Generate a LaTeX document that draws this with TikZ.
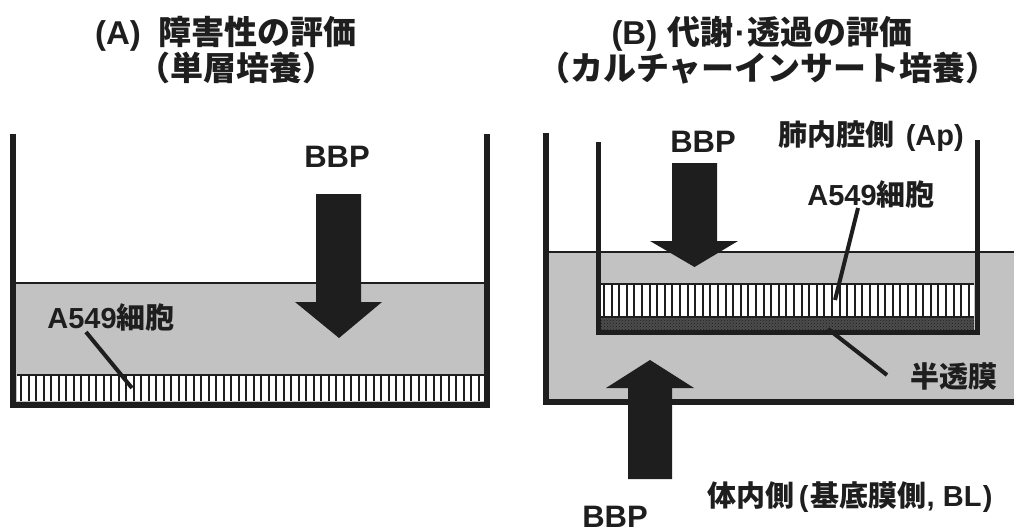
\documentclass[tikz,border=0pt]{standalone}
\usepackage{fontspec}
\setmainfont{Liberation Sans}
\newfontfamily\jp{Noto Sans CJK JP}
\usetikzlibrary{patterns}
\definecolor{ink}{RGB}{30,30,30}
\definecolor{liquid}{RGB}{194,194,194}
\tikzset{
  wall/.style={draw=ink, line width=6pt, line join=miter},
  insertwall/.style={draw=ink, line width=5pt, line join=miter},
  surface/.style={draw=ink, line width=1.4pt},
  stripe/.style={draw=ink, line width=2pt},
  leader/.style={draw=ink, line width=4pt},
  bigarrow/.style={fill=ink},
  lbl/.style={inner sep=0pt, anchor=base, text=ink, font=\bfseries\fontsize{29}{32}\selectfont},
  bbp/.style={inner sep=0pt, anchor=base, text=ink, font=\bfseries\fontsize{31}{34}\selectfont},
  ttl/.style={inner sep=0pt, anchor=base, text=ink, font=\bfseries\fontsize{33}{36}\selectfont}
}
\begin{document}
\begin{tikzpicture}[x=1pt, y=-1pt]
\useasboundingbox (0,0) rectangle (1014,532);

% ---------------- Titles ----------------
\node[ttl] (tA1) at (226,45) {(A)\hspace{0.55em}{\jp 障害性の評価}};
\node[ttl] (tA2) at (236,81) {{\jp （単層培養）}};
\node[ttl] (tB1) at (762,45) {(B)\hspace{0.3em}{\jp 代謝}\kern0.05em·\kern0.05em{\jp 透過の評価}};
\node[ttl] (tB2) at (768,81) {{\jp （カルチャーインサート培養）}};

% ---------------- Panel A ----------------
\fill[liquid] (16,283) rectangle (484,402);
\draw[surface] (16,283) -- (484,283);
\fill[white] (17,375) rectangle (484,401);
\draw[surface] (17,375) -- (484,375);
\foreach \i in {0,...,61} {
  \draw[stripe] ({21+7.5*\i},375) -- ({21+7.5*\i},401);
}
\draw[wall] (13,134) -- (13,405) -- (487,405) -- (487,134);

\fill[bigarrow] (316,194) -- (361,194) -- (361,302) -- (382,302) -- (339,338) -- (295,302) -- (316,302) -- cycle;

\node[bbp] (bbpA) at (337,167) {BBP};
\node[lbl] (cellA) at (111,328) {A549{\jp 細胞}};
\coordinate (cellAend) at (132,388);
\draw[leader] (86,332) -- (cellAend);

% ---------------- Panel B ----------------
\fill[liquid] (549,252) rectangle (1014,399);
\draw[surface] (549,252) -- (1014,252);
% cells in insert
\fill[white] (601,284) rectangle (974,317);
\draw[surface] (601,284) -- (974,284);
\foreach \i in {0,...,48} {
  \draw[stripe] ({604+7.6*\i},284) -- ({604+7.6*\i},317);
}
% membrane
\fill[black!70] (601,317) rectangle (974,331);
\fill[pattern=crosshatch dots, pattern color=ink] (601,317) rectangle (974,331);
\draw[surface] (601,317) -- (974,317);
% insert walls
\draw[insertwall] (598,142) -- (598,332) -- (977,332) -- (977,140);
% outer container
\draw[wall] (546,133) -- (546,402) -- (1020,402);

% arrows
\fill[bigarrow] (672,163) -- (717,163) -- (717,241) -- (738,241) -- (694.5,267) -- (650,241) -- (672,241) -- cycle;
\fill[bigarrow] (628,479) -- (672,479) -- (672,388) -- (694,388) -- (650,360) -- (606,388) -- (628,388) -- cycle;

% labels
\node[bbp] (bbpBtop) at (703,152) {BBP};
\node[lbl] (ap) at (871,146) {{\jp 肺内腔側}\hspace{0.4em}(Ap)};
\node[lbl] (cellB) at (871,205) {A549{\jp 細胞}};
\coordinate (cellBend) at (835,300);
\draw[leader] (858,208) -- (cellBend);
\node[lbl] (memb) at (954,387) {{\jp 半透膜}};
\coordinate (membend) at (828,329);
\draw[leader] (887,375) -- (membend);
\node[bbp] (bbpBbot) at (615,527) {BBP};
\node[lbl] (bl) at (850,506) {{\jp 体内側}\kern0.15em(\kern0.08em{\jp 基底膜側}, BL\kern0.05em)};
\end{tikzpicture}
\end{document}
